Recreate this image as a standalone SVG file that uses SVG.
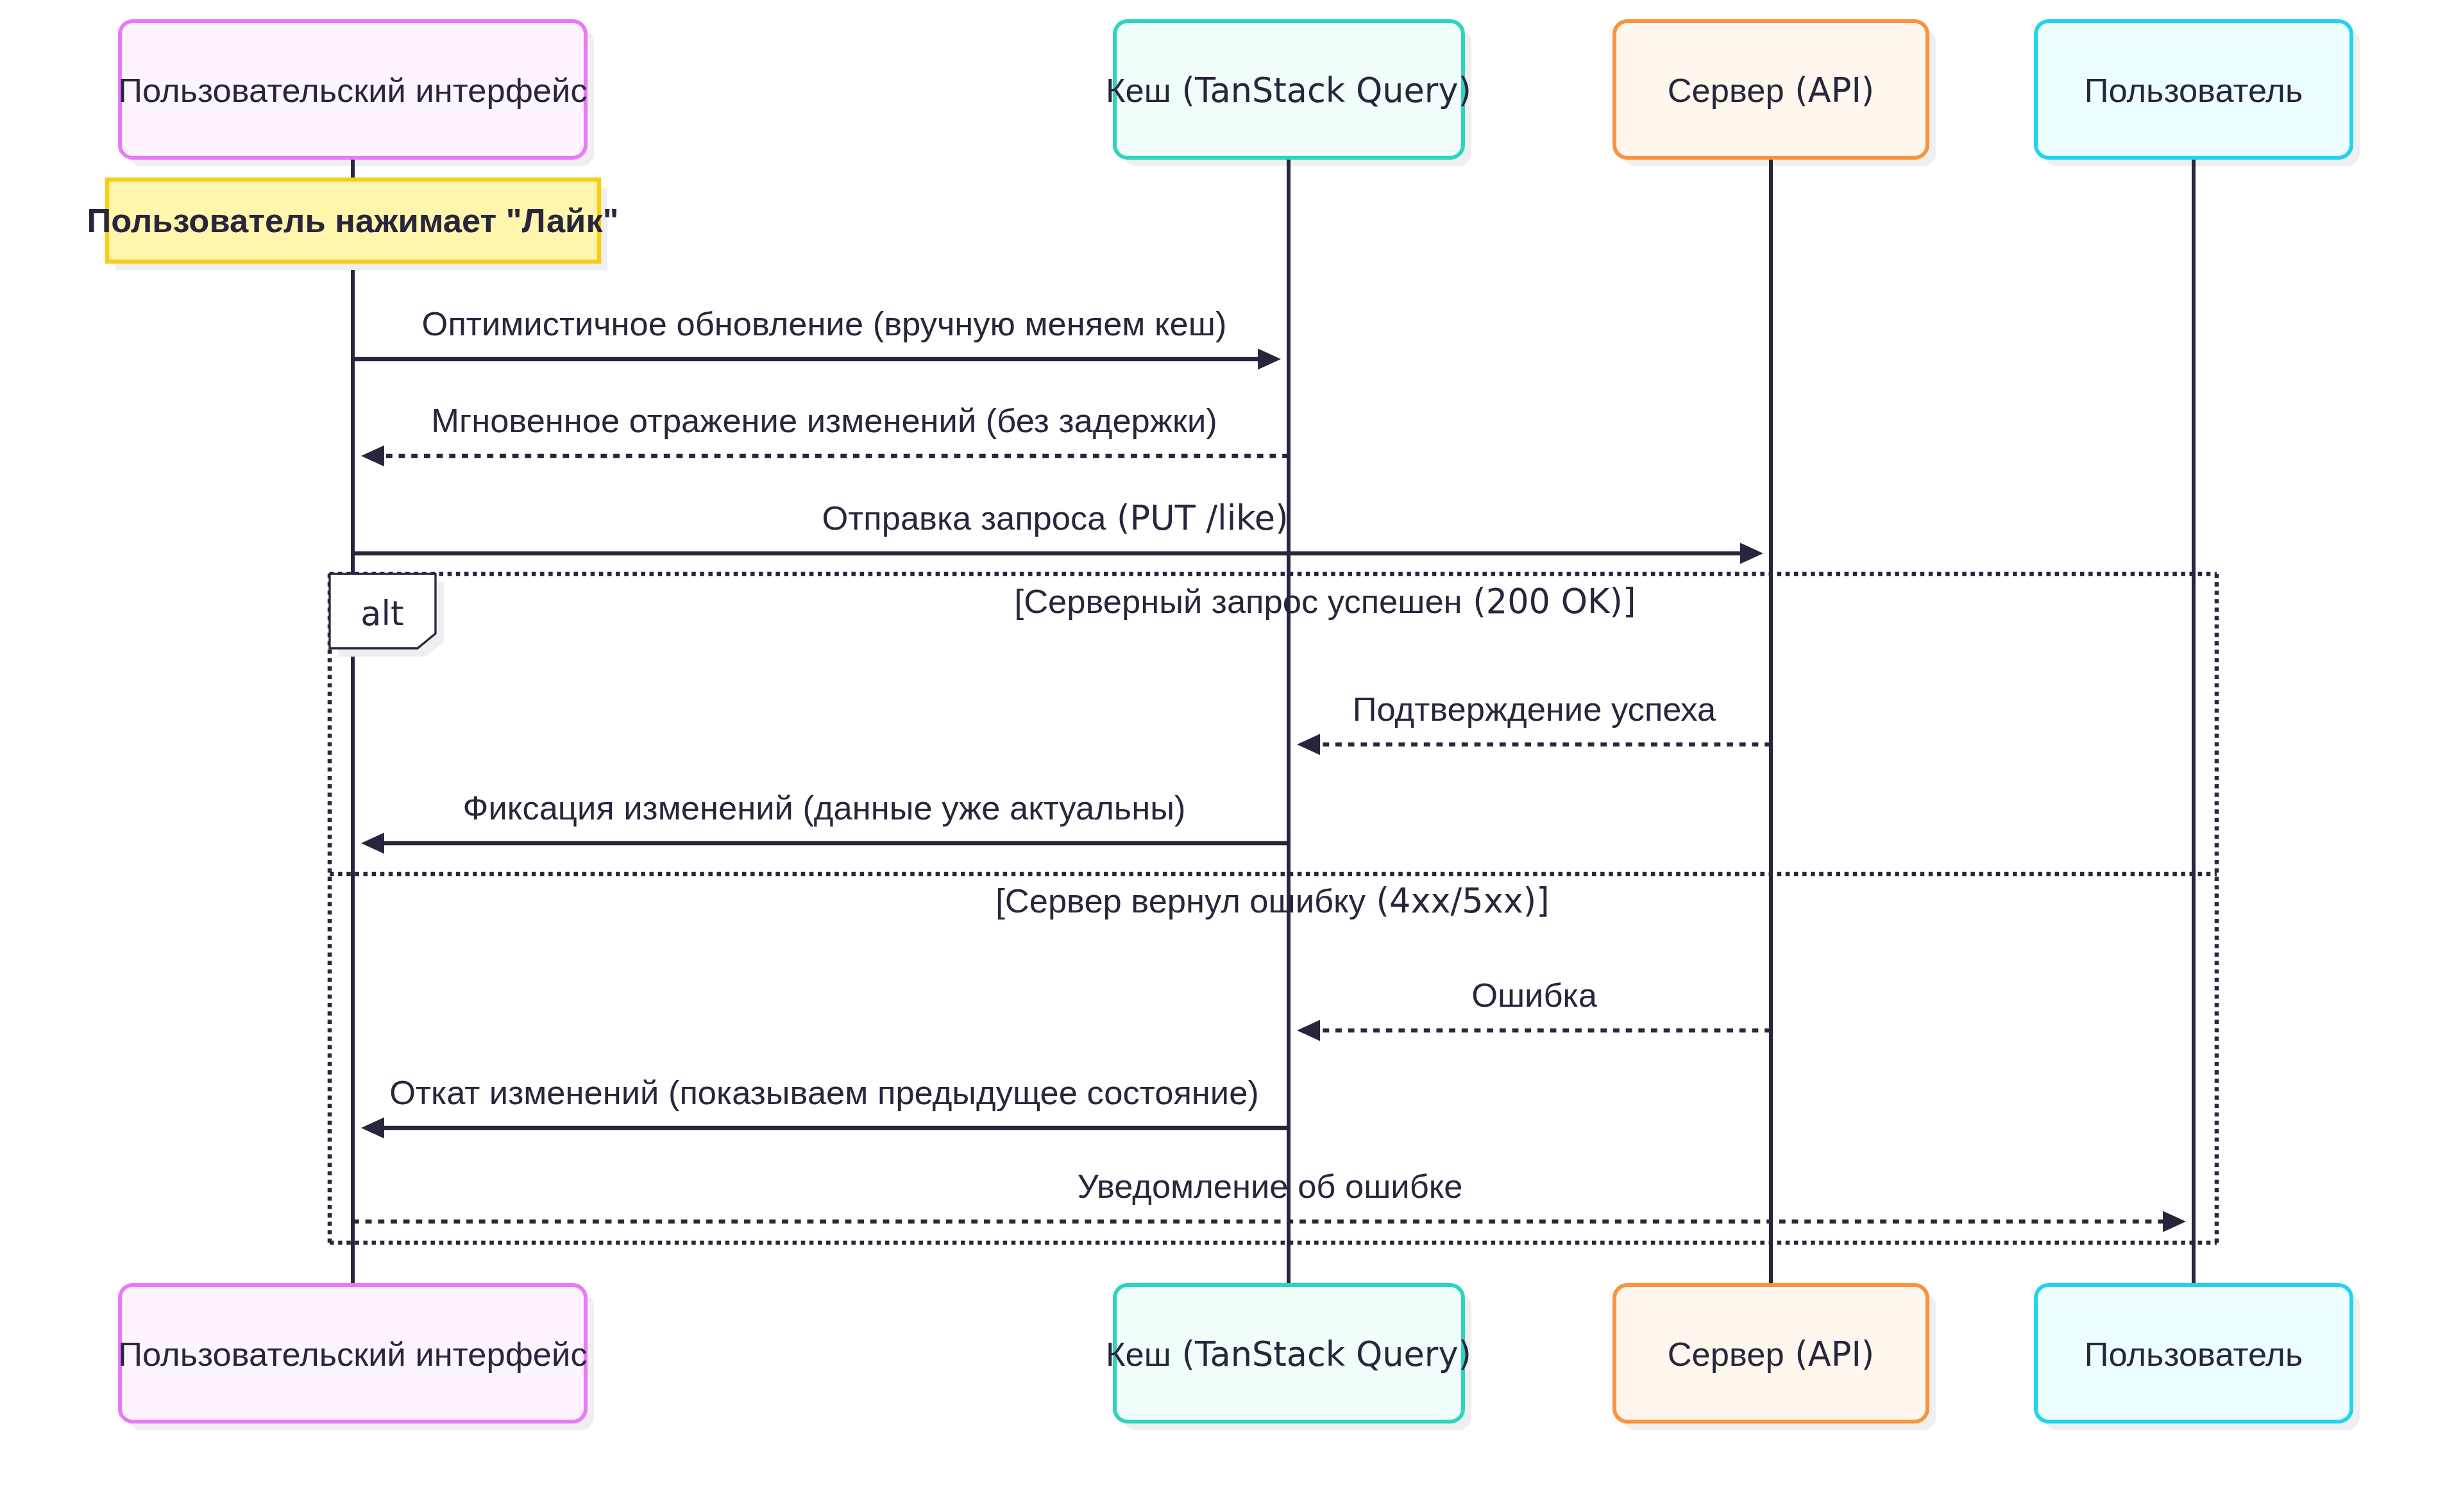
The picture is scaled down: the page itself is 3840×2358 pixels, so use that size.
<svg xmlns="http://www.w3.org/2000/svg" width="3840" height="2358" viewBox="0 0 3840 2358">
<defs>
<style>
.t{font-family:"Liberation Sans",Arial,sans-serif;font-size:52.5px;fill:#28263c;}
.lat{font-family:"DejaVu Sans","Noto Sans",sans-serif;}
.mid{text-anchor:middle;}
.b{font-weight:bold;}
.shadow{fill:#efefef;}
.life{stroke:#28263c;stroke-width:6;}
.msg{stroke:#28263c;stroke-width:6.6;fill:none;}
.dot{stroke-dasharray:9.84 9.84;}
.loop{stroke:#28263c;stroke-width:6.56;stroke-dasharray:6.56 6.56;fill:none;}
</style>
<marker id="arrow" markerUnits="userSpaceOnUse" markerWidth="40" markerHeight="40" refX="28" refY="16.5" orient="auto" overflow="visible">
<path d="M0,0 L36,16.5 L0,33 z" fill="#28263c"/>
</marker>
</defs>
<rect width="3840" height="2358" fill="#ffffff"/>

<g id="actor-ui-top">
<rect class="shadow" x="200" y="46" width="726" height="213" rx="20"/>
<rect x="187" y="33" width="726" height="213" rx="20" fill="#fdf4ff" stroke="#e879f9" stroke-width="6"/>
<text class="t mid" x="550" y="159">Пользовательский интерфейс</text>
</g>
<g id="actor-cache-top">
<rect class="shadow" x="1751" y="46" width="543" height="213" rx="20"/>
<rect x="1738" y="33" width="543" height="213" rx="20" fill="#f0fdfa" stroke="#2dd4bf" stroke-width="6"/>
<text class="t mid" x="2009" y="159">Кеш<tspan class="lat"> (TanStack Query)</tspan></text>
</g>
<g id="actor-server-top">
<rect class="shadow" x="2530" y="46" width="488" height="213" rx="20"/>
<rect x="2517" y="33" width="488" height="213" rx="20" fill="#fff7ed" stroke="#fb923c" stroke-width="6"/>
<text class="t mid" x="2761" y="159">Сервер<tspan class="lat"> (API)</tspan></text>
</g>
<g id="actor-user-top">
<rect class="shadow" x="3187" y="46" width="492" height="213" rx="20"/>
<rect x="3174" y="33" width="492" height="213" rx="20" fill="#ecfeff" stroke="#22d3ee" stroke-width="6"/>
<text class="t mid" x="3420" y="159">Пользователь</text>
</g>

<g id="lifelines">
<line class="life" x1="550" y1="249" x2="550" y2="2004"/>
<line class="life" x1="2009" y1="249" x2="2009" y2="2004"/>
<line class="life" x1="2761" y1="249" x2="2761" y2="2004"/>
<line class="life" x1="3420" y1="249" x2="3420" y2="2004"/>
</g>

<g id="alt-frame">
<line class="loop" x1="514" y1="895" x2="3456" y2="895"/>
<line class="loop" x1="3456" y1="895" x2="3456" y2="1938"/>
<line class="loop" x1="514" y1="1938" x2="3456" y2="1938"/>
<line class="loop" x1="514" y1="895" x2="514" y2="1938"/>
<line class="loop" x1="514" y1="1363" x2="3456" y2="1363"/>
<polygon class="shadow" points="527,908 692,908 692,1001 664,1024 527,1024"/>
<polygon points="514,895 679,895 679,988 651,1011 514,1011" fill="#ffffff" stroke="#28263c" stroke-width="3.3"/>
<text class="t lat mid" x="596" y="975">alt</text>
<text class="t mid" x="2066" y="956">[Серверный запрос успешен<tspan class="lat"> (200 OK)]</tspan></text>
<text class="t mid" x="1984" y="1423">[Сервер вернул ошибку<tspan class="lat"> (4xx/5xx)]</tspan></text>
</g>

<g id="note-like">
<rect class="shadow" x="180" y="293" width="767" height="128"/>
<rect x="167" y="280" width="767" height="128" fill="#fff5ad" stroke="#facc15" stroke-width="6.5"/>
<text class="t mid b" x="550" y="362">Пользователь нажимает "Лайк"</text>
</g>

<g id="connectors">
<line class="msg" x1="550" y1="560" x2="1989" y2="560" marker-end="url(#arrow)"/>
<line class="msg dot" x1="2009" y1="711" x2="571" y2="711" marker-end="url(#arrow)"/>
<line class="msg" x1="550" y1="863" x2="2741" y2="863" marker-end="url(#arrow)"/>
<line class="msg dot" x1="2761" y1="1161" x2="2030" y2="1161" marker-end="url(#arrow)"/>
<line class="msg" x1="2009" y1="1315" x2="571" y2="1315" marker-end="url(#arrow)"/>
<line class="msg dot" x1="2761" y1="1607" x2="2030" y2="1607" marker-end="url(#arrow)"/>
<line class="msg" x1="2009" y1="1759" x2="571" y2="1759" marker-end="url(#arrow)"/>
<line class="msg dot" x1="550" y1="1905" x2="3400" y2="1905" marker-end="url(#arrow)"/>
<text class="t mid" x="1285" y="523">Оптимистичное обновление (вручную меняем кеш)</text>
<text class="t mid" x="1285" y="674">Мгновенное отражение изменений (без задержки)</text>
<text class="t mid" x="1645" y="826">Отправка запроса<tspan class="lat"> (PUT /like)</tspan></text>
<text class="t mid" x="2392" y="1124">Подтверждение успеха</text>
<text class="t mid" x="1285" y="1278">Фиксация изменений (данные уже актуальны)</text>
<text class="t mid" x="2392" y="1570">Ошибка</text>
<text class="t mid" x="1285" y="1722">Откат изменений (показываем предыдущее состояние)</text>
<text class="t mid" x="1980" y="1868">Уведомление об ошибке</text>
</g>

<g id="actor-ui-bottom">
<rect class="shadow" x="200" y="2017" width="726" height="213" rx="20"/>
<rect x="187" y="2004" width="726" height="213" rx="20" fill="#fdf4ff" stroke="#e879f9" stroke-width="6"/>
<text class="t mid" x="550" y="2130">Пользовательский интерфейс</text>
</g>
<g id="actor-cache-bottom">
<rect class="shadow" x="1751" y="2017" width="543" height="213" rx="20"/>
<rect x="1738" y="2004" width="543" height="213" rx="20" fill="#f0fdfa" stroke="#2dd4bf" stroke-width="6"/>
<text class="t mid" x="2009" y="2130">Кеш<tspan class="lat"> (TanStack Query)</tspan></text>
</g>
<g id="actor-server-bottom">
<rect class="shadow" x="2530" y="2017" width="488" height="213" rx="20"/>
<rect x="2517" y="2004" width="488" height="213" rx="20" fill="#fff7ed" stroke="#fb923c" stroke-width="6"/>
<text class="t mid" x="2761" y="2130">Сервер<tspan class="lat"> (API)</tspan></text>
</g>
<g id="actor-user-bottom">
<rect class="shadow" x="3187" y="2017" width="492" height="213" rx="20"/>
<rect x="3174" y="2004" width="492" height="213" rx="20" fill="#ecfeff" stroke="#22d3ee" stroke-width="6"/>
<text class="t mid" x="3420" y="2130">Пользователь</text>
</g>
</svg>
